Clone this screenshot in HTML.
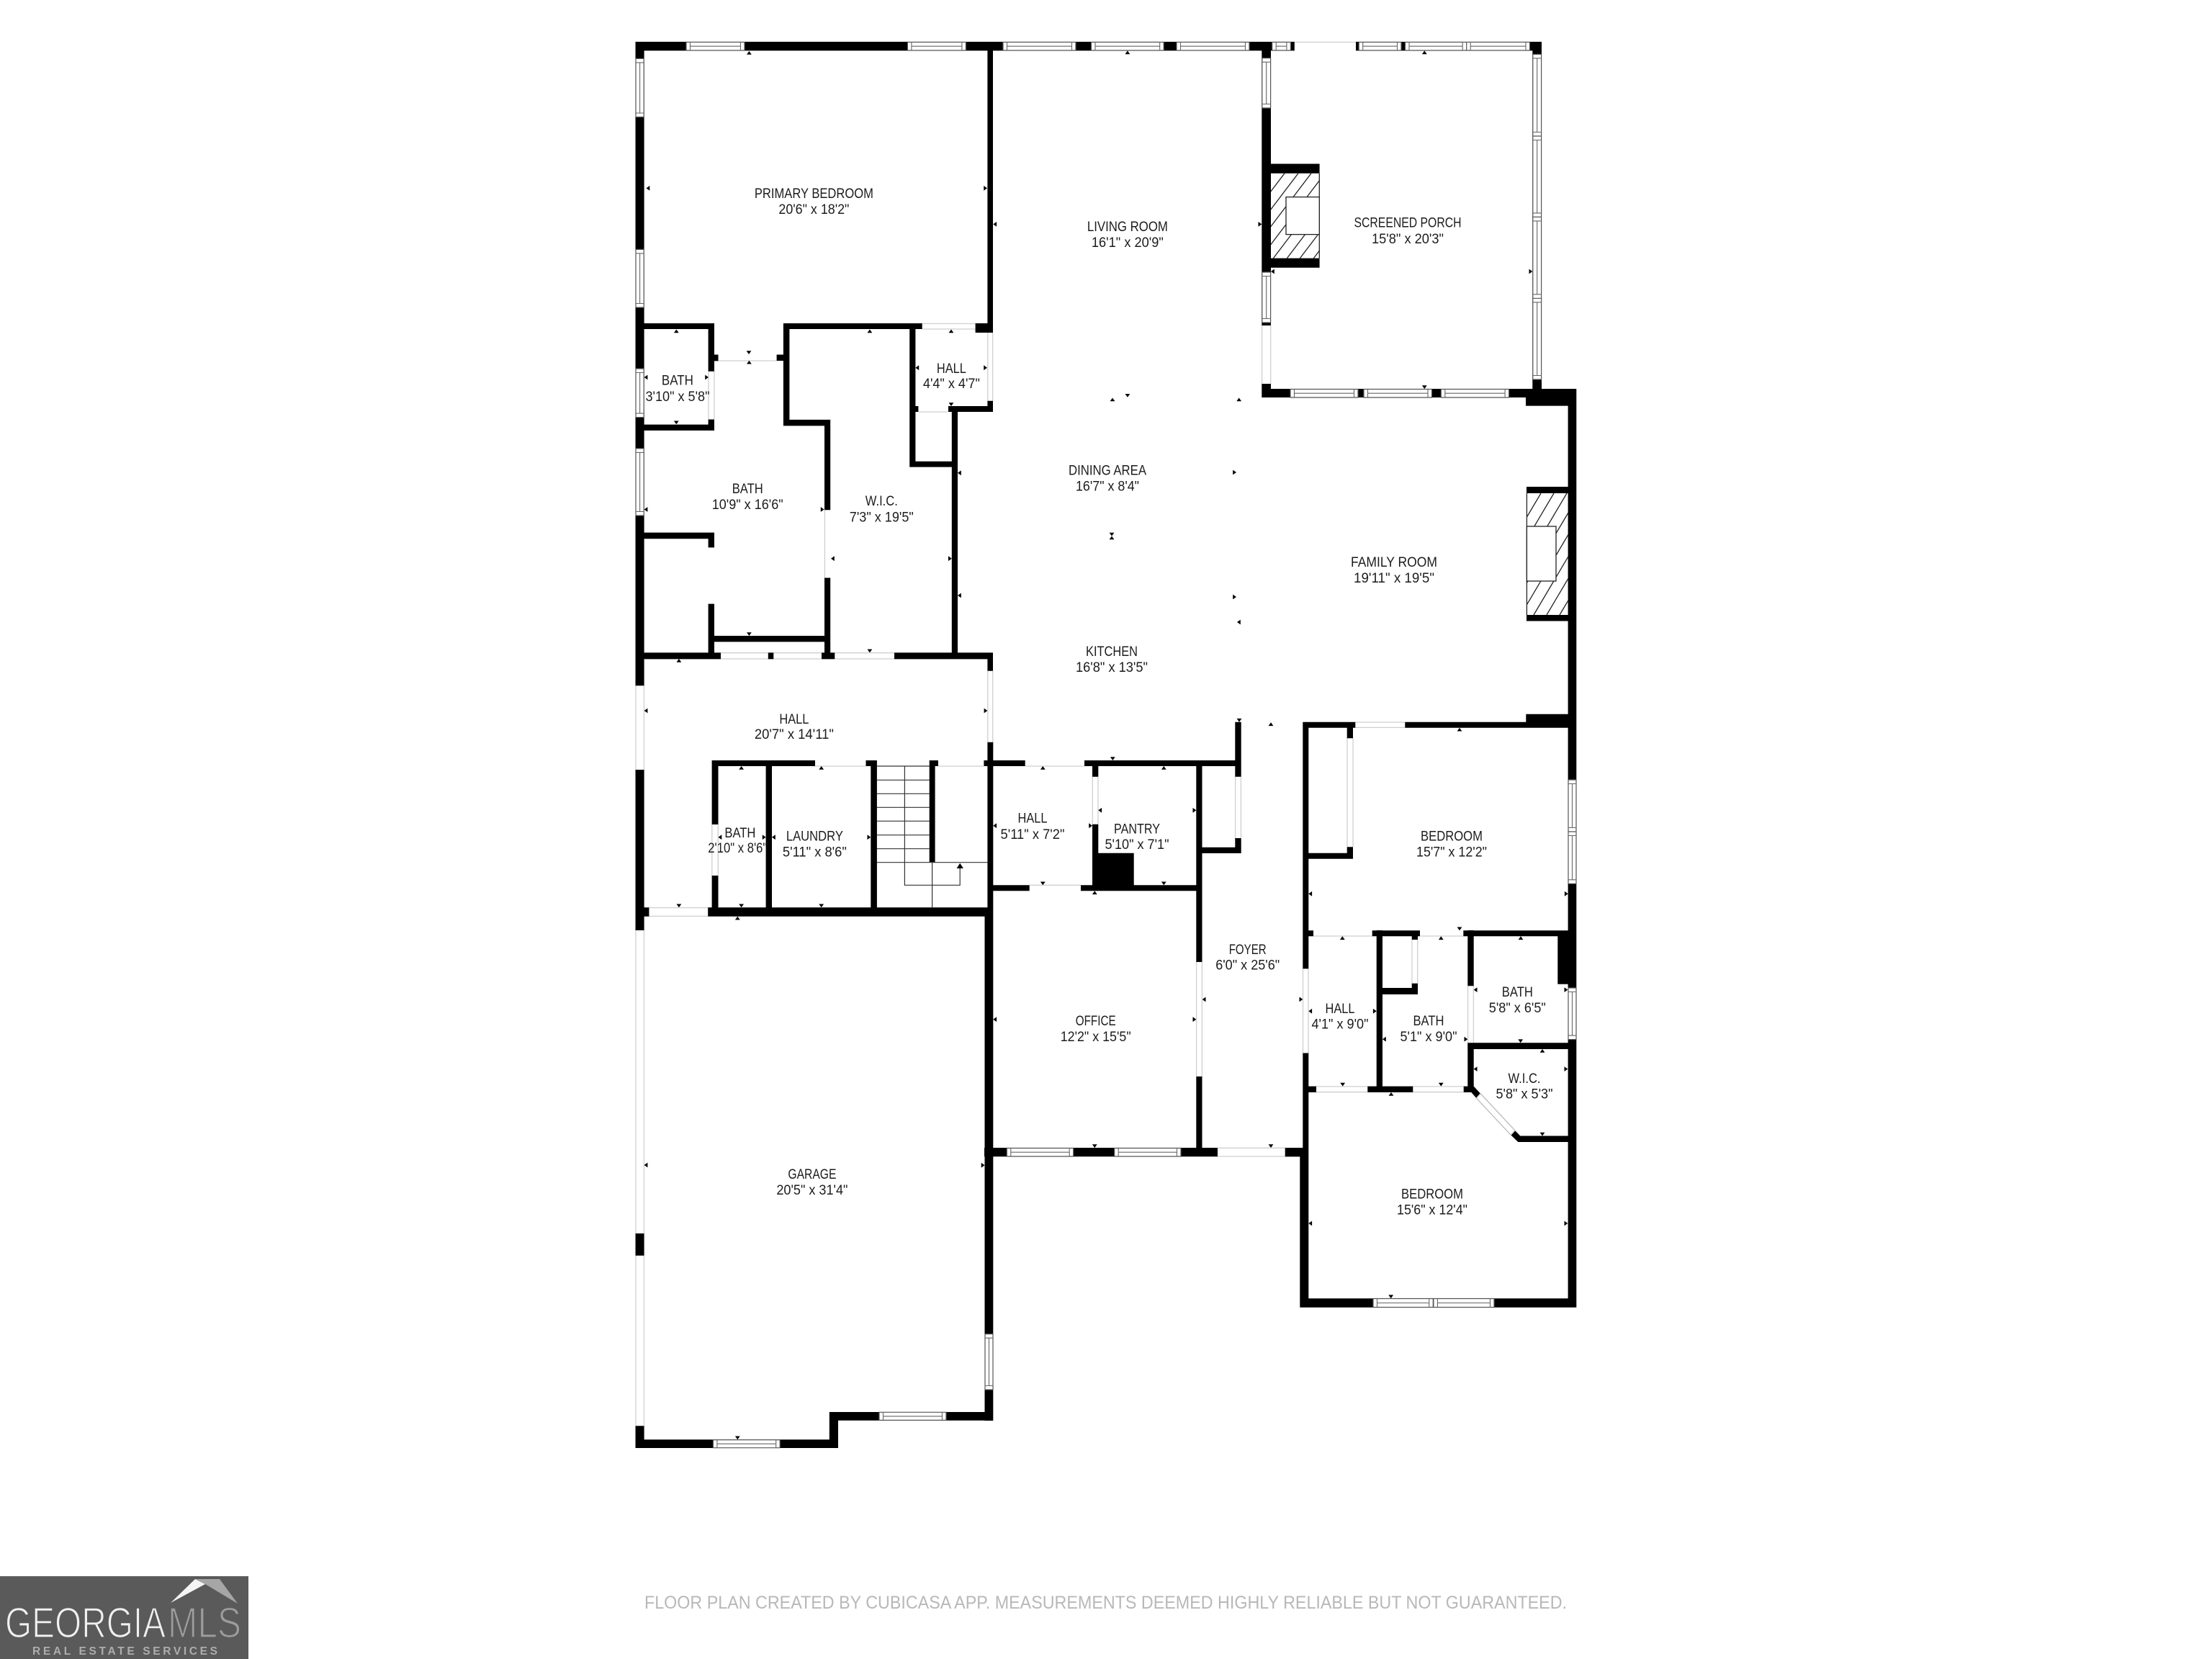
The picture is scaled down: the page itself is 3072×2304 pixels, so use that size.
<!DOCTYPE html>
<html><head><meta charset="utf-8"><title>Floor plan</title>
<style>
html,body{margin:0;padding:0;background:#fff}
svg{display:block}
text{font-family:"Liberation Sans",Arial,sans-serif}
.l text{font-size:19px;fill:#1c1c1c;text-anchor:middle}
</style></head><body>
<svg xmlns="http://www.w3.org/2000/svg" width="3072" height="2304" viewBox="0 0 3072 2304">
<defs>
<clipPath id="c1"><rect x="1765" y="240.7" width="67.6" height="118"/></clipPath>
<clipPath id="c2"><rect x="2120" y="685" width="58" height="169"/></clipPath>
</defs>
<rect width="3072" height="2304" fill="#fff"/>

<!-- door / opening lines -->
<path fill="none" stroke="#cfcfcf" stroke-width="1.3" d="
M1280.7 449.5H1354.6M1280.7 457H1354.6
M1371.8 462V557M1378.6 462V557
M997.5 501H1078.6
M984 515.7V582.5M992 515.7V582.5
M1145.4 708V802.5
M1275.4 572H1317
M1001 915H1066.8M1074.3 915H1141M1159.3 915H1242
M1001 906.7H1066.8M1074.3 906.7H1141M1159.3 906.7H1242
M883 952V1069M894.4 952V1069
M1371.8 931.8V1030.7M1378.7 931.8V1030.7
M1132 1064H1202.5M1302.9 1064H1366.4
M988.8 1145V1216M997.3 1145V1216
M901.4 1260.6H983.2M901.4 1272.4H983.2
M883 1292V1713M883 1743.7V1980
M894.4 1292V1713M894.4 1743.7V1980
M1423.7 1064H1506M1429.7 1229.3H1501
M1517.3 1078.7V1144.7M1525 1078.7V1144.7
M1715.6 1078.7V1164M1723.4 1078.7V1164
M1669.4 1336V1495M1661.6 1336V1495
M1691 1594.3H1785M1691 1606H1785
M1809.5 1345.4V1462.5M1817 1345.4V1462.5
M1824 1300H1905.7M1972 1300H2032.3
M1871 1025V1176M1879 1025V1176
M1882.3 1003H1951.3M1882.3 1010.4H1951.3
M1961 1305V1365.7M1968.7 1305V1365.7
M2038.6 1369.3V1457M2046.4 1369.3V1457
M1828 1508.9H1899.3M1828 1516.7H1899.3
M1962.3 1508.9H2032.7M1962.3 1516.7H2032.7
M1797.8 58.5H1883
M1752.6 452V533M1764.7 452V533"/>

<!-- walls -->
<path fill="#000" d="
M882.5 58H1797.8V70.4H882.5Z
M1883 58H2141V70.4H1883Z
M882.5 58H894.6V952.3H882.5Z
M882.5 1069H894.6V1292H882.5Z
M882.5 1713H894.6V1743.7H882.5Z
M882.5 1980.3H894.6V2011H882.5Z
M1371.4 58H1379V462H1371.4Z
M1354.6 449H1379V462H1354.6Z
M1371.4 556.8H1379V572H1371.4Z
M1317 564H1379V572H1317Z
M882.5 449H992V457H882.5Z
M983.6 449H992V515.7H983.6Z
M983.6 492.5H997.5V501.4H983.6Z
M983.6 582.5H992V597.9H983.6Z
M882.5 589.6H992V597.9H882.5Z
M1087.9 449H1280.7V457H1087.9Z
M1087.9 449H1096.4V591.4H1087.9Z
M1078.6 492.5H1096.4V501H1078.6Z
M1087.9 582.9H1153.2V591.4H1087.9Z
M1145 582.9H1153.2V708.2H1145Z
M1145 802.5H1153.2V915H1145Z
M1263.2 449H1271.4V648.6H1263.2Z
M1263.2 564H1275.4V572H1263.2Z
M1263.2 640.7H1330V648.6H1263.2Z
M1321.8 564H1330V915H1321.8Z
M882.5 739.6H992V748.2H882.5Z
M983.6 739.6H992V760.4H983.6Z
M983.6 838.6H992V915H983.6Z
M983.6 883H1153V891.4H983.6Z
M882.5 906.4H1001V915.4H882.5Z
M1066.8 906.4H1074.3V915.4H1066.8Z
M1141 906.4H1159.3V915.4H1141Z
M1242 906.4H1379V915.4H1242Z
M1371.4 906.4H1379V931.8H1371.4Z
M1371.4 1030.7H1379.3V1272.7H1371.4Z
M988.6 1056H1132V1064H988.6Z
M1202.5 1056H1217.9V1064H1202.5Z
M1290.7 1056H1302.9V1064H1290.7Z
M1366.4 1056H1423.7V1064H1366.4Z
M988.6 1056H997.5V1145H988.6Z
M988.6 1216H997.5V1272.7H988.6Z
M1063.6 1056H1072V1272.7H1063.6Z
M1209.3 1056H1217.9V1272.7H1209.3Z
M983.2 1260.3H1379V1272.7H983.2Z
M882.5 1260.3H901.4V1272.7H882.5Z
M1290.7 1056H1298.6V1197.7H1290.7Z
M1367.5 1260.3H1379.3V1973H1367.5Z
M1379.3 1229.3H1429.7V1237.3H1379.3Z
M1501 1229.3H1669.3V1237.3H1501Z
M1506 1056H1723.7V1064H1506Z
M1517 1056H1525.3V1078.7H1517Z
M1517 1144.7H1525.3V1237.3H1517Z
M1517 1184.7H1574.7V1237.3H1517Z
M1661.3 1056H1669.5V1336H1661.3Z
M1661.3 1495H1669.5V1606H1661.3Z
M1715.3 1002.7H1723.7V1078.7H1715.3Z
M1715.3 1164H1723.7V1185H1715.3Z
M1661.3 1176.7H1723.7V1185H1661.3Z
M1809.3 1002.7H1817.3V1345.4H1809.3Z
M1809.3 1462.5H1817.3V1606H1809.3Z
M1809.3 1002.7H1882.3V1010.7H1809.3Z
M1951.3 1002.7H2189V1010.7H1951.3Z
M2119.3 991.7H2189V1010.7H2119.3Z
M1870.7 1010.7H1879V1025.3H1870.7Z
M1870.7 1176.3H1879V1192.7H1870.7Z
M1809.3 1184.7H1879V1192.7H1809.3Z
M1809.3 1292.3H1824V1300.3H1809.3Z
M1905.7 1292.3H1972V1300.3H1905.7Z
M2032.3 1292.3H2189V1300.3H2032.3Z
M1809.3 1508.6H1828V1517H1809.3Z
M1899.3 1508.6H1962.3V1517H1899.3Z
M2032.7 1508.6H2046.7V1517H2032.7Z
M1911.7 1292H1920V1517H1911.7Z
M1920 1372H1969V1381H1920Z
M1960.7 1300H1969V1305H1960.7Z
M1960.7 1365.7H1969V1381H1960.7Z
M2038.3 1292H2046.7V1369.3H2038.3Z
M2038.3 1457H2046.7V1517H2038.3Z
M2038.3 1448.2H2189V1457H2038.3Z
M2163.3 1300H2178.5V1366.8H2163.3Z
M2046.7 1508.6L2056 1518.6L2050.3 1525L2043.3 1517Z
M2098.3 1576.4L2104 1570L2111.3 1577.5H2178V1586H2108.3Z
M1805.3 1803.2H2189.3V1815.7H1805.3Z
M1805.3 1594.3H1817.3V1815.7H1805.3Z
M1784.7 1594.3H1817.3V1606.4H1784.7Z
M1367 1594H1691V1606.3H1367Z
M1785 1594H1817V1606.3H1785Z
M1151.8 1961H1379.3V1972.7H1151.8Z
M1151.8 1961H1164V2011H1151.8Z
M882.5 1999.3H1164V2011H882.5Z
M1752.3 58H1765V452H1752.3Z
M1752.3 533H1765V552H1752.3Z
M1752.3 540H2141V552H1752.3Z
M2128.3 58H2141V552H2128.3Z
M2119 540H2189.3V563.6H2119Z
M2177.6 540H2189.3V1815.7H2177.6Z
M1765 227.5H1832.6V240.7H1765Z
M1765 358.6H1832.6V371.8H1765Z
M2120 676H2178V685H2120Z
M2120 854H2178V862.5H2120Z"/>

<!-- fireplaces -->
<g stroke="#222" stroke-width="1.3" fill="none">
<g clip-path="url(#c1)">
<path d="M1784 240.7L1694.4 358.6M1803 240.7L1713.4 358.6M1821 240.7L1731.4 358.6M1840 240.7L1750.4 358.6M1858 240.7L1768.4 358.6M1877 240.7L1787.4 358.6M1895 240.7L1805.4 358.6M1914 240.7L1824.4 358.6"/>
</g>
<path d="M1832.3 240.7V358.6"/>
<rect x="1786" y="273.6" width="46.3" height="52" fill="#fff"/>
<g clip-path="url(#c2)">
<path d="M2140 685L2040 854M2158 685L2058 854M2176 685L2076 854M2194 685L2094 854M2212 685L2112 854M2230 685L2130 854M2248 685L2148 854M2266 685L2166 854M2284 685L2184 854"/>
</g>
<path d="M2120.4 685V854"/>
<rect x="2120.4" y="731" width="40.6" height="76" fill="#fff"/>
</g>

<!-- windows -->
<path fill="#fff" stroke="#555" stroke-width="1.2" d="
M953 58.5H1034V70H953Z M1260.4 58.5H1341.4V70H1260.4Z M1393 58.5H1494V70H1393Z M1515.5 58.5H1616.2V70H1515.5Z M1634 58.5H1735V70H1634Z M1766.7 58.5H1792.4V70H1766.7Z M1887.2 58.5H1946V70H1887.2Z M1951.5 58.5H2036.7V70H1951.5Z M2036.7 58.5H2124.5V70H2036.7Z
M1792 540.5H1886V552H1792Z M1894 540.5H1988.5V552H1894Z M2001.3 540.5H2095.6V552H2001.3Z
M1398.3 1594.5H1490.7V1606H1398.3Z M1547.7 1594.5H1640V1606H1547.7Z
M1907 1803.5H1990.3V1815.5H1907Z M1990.9 1803.5H2075V1815.5H1990.9Z
M990.4 1999.6H1083.2V2010.7H990.4Z M1221 1961.3H1314V1972.4H1221Z
M883 81.4H894.2V162.5H883Z M883 346.4H894.2V427H883Z M883 512H894.2V579.6H883Z M883 622.9H894.2V716H883Z
M1752.8 80.7H1764.6V150H1752.8Z M1752.8 378H1764.6V448H1752.8Z
M2128.8 75.4H2140.6V189H2128.8Z M2128.8 189H2140.6V301.4H2128.8Z M2128.8 301.4H2140.6V414.3H2128.8Z M2128.8 414.3H2140.6V527H2128.8Z
M2178 1083H2189V1155H2178Z M2178 1155H2189V1227.3H2178Z
M2178 1372H2189V1443.6H2178Z
M1368 1852.7H1379V1930H1368Z"/>
<path fill="#fff" stroke="#b5b5b5" stroke-width="1.2" d="M2050.3 1525L2056 1518.6L2104 1570L2098.3 1576.4Z"/>
<path fill="none" stroke="#666" stroke-width="1.1" d="
M958.5 58.5V70M1028.5 58.5V70M958.5 64.2H1028.5
M1265.9 58.5V70M1335.9 58.5V70M1265.9 64.2H1335.9
M1398.5 58.5V70M1488.5 58.5V70M1398.5 64.2H1488.5
M1521 58.5V70M1610.7 58.5V70M1521 64.2H1610.7
M1639.5 58.5V70M1729.5 58.5V70M1639.5 64.2H1729.5
M1772.2 58.5V70M1786.9 58.5V70M1772.2 64.2H1786.9
M1892.7 58.5V70M1940.5 58.5V70M1892.7 64.2H1940.5
M1957 58.5V70M2031.2 58.5V70M1957 64.2H2031.2
M2042.2 58.5V70M2119 58.5V70M2042.2 64.2H2119
M1797.5 540.5V552M1880.5 540.5V552M1797.5 546.2H1880.5
M1899.5 540.5V552M1983 540.5V552M1899.5 546.2H1983
M2006.8 540.5V552M2090.1 540.5V552M2006.8 546.2H2090.1
M1403.8 1594.5V1606M1485.2 1594.5V1606M1403.8 1600.2H1485.2
M1553.2 1594.5V1606M1634.5 1594.5V1606M1553.2 1600.2H1634.5
M1912.5 1803.5V1815.5M1984.8 1803.5V1815.5M1912.5 1809.5H1984.8
M1996.4 1803.5V1815.5M2069.5 1803.5V1815.5M1996.4 1809.5H2069.5
M995.9 1999.6V2010.7M1077.7 1999.6V2010.7M995.9 2005.2H1077.7
M1226.5 1961.3V1972.4M1308.5 1961.3V1972.4M1226.5 1966.9H1308.5
M883 86.9H894.2M883 157H894.2M888.6 86.9V157
M883 351.9H894.2M883 421.5H894.2M888.6 351.9V421.5
M883 517.5H894.2M883 574.1H894.2M888.6 517.5V574.1
M883 628.4H894.2M883 710.5H894.2M888.6 628.4V710.5
M1752.8 86.2H1764.6M1752.8 144.5H1764.6M1758.7 86.2V144.5
M1752.8 383.5H1764.6M1752.8 442.5H1764.6M1758.7 383.5V442.5
M2128.8 80.9H2140.6M2128.8 183.5H2140.6M2134.7 80.9V183.5
M2128.8 194.5H2140.6M2128.8 295.9H2140.6M2134.7 194.5V295.9
M2128.8 306.9H2140.6M2128.8 408.8H2140.6M2134.7 306.9V408.8
M2128.8 419.8H2140.6M2128.8 521.5H2140.6M2134.7 419.8V521.5
M2178 1088.5H2189M2178 1149.5H2189M2183.5 1088.5V1149.5
M2178 1160.5H2189M2178 1221.8H2189M2183.5 1160.5V1221.8
M2178 1377.5H2189M2178 1438.1H2189M2183.5 1377.5V1438.1
M1368 1858.2H1379M1368 1924.5H1379M1373.5 1858.2V1924.5"/>

<!-- stairs -->
<path fill="none" stroke="#333" stroke-width="1.2" d="
M1217.9 1064H1290.7M1217.9 1083.3H1290.7M1217.9 1102.3H1290.7M1217.9 1121.3H1290.7M1217.9 1140.3H1290.7M1217.9 1159.7H1290.7M1217.9 1178.7H1290.7
M1217.9 1197.7H1371.4
M1256.4 1064V1229.3H1333.2V1204
M1294.6 1197.7V1260.3"/>
<path fill="#000" d="M1333.2 1198.7L1337.9 1206H1328.6Z"/>

<!-- dimension markers -->
<path fill="#000" d="
M1040.4 71l3.4 4.8h-6.8zM939.3 457.5l3.4 4.8h-6.8zM1040.4 500.7l3.4 4.8h-6.8zM1207.9 457.5l3.4 4.8h-6.8zM1321 457.5l3.4 4.8h-6.8z
M942.9 915l3.4 4.8h-6.8zM1029.6 1064l3.4 4.8h-6.8zM1140.7 1064l3.4 4.8h-6.8zM1024.3 1272.7l3.4 4.8h-6.8z
M1448.3 1064l3.4 4.8h-6.8zM1616.3 1064l3.4 4.8h-6.8zM1520.3 1237.3l3.4 4.8h-6.8zM1765 1003.3l3.4 4.8h-6.8z
M2027 1010.7l3.4 4.8h-6.8zM1864.3 1300.3l3.4 4.8h-6.8zM2001.3 1300.3l3.4 4.8h-6.8zM2112 1300.3l3.4 4.8h-6.8z
M2142 1457l3.4 4.8h-6.8zM1932 1517l3.4 4.8h-6.8z
M1565.9 70.4l3.4 4.8h-6.8zM1978.3 70.4l3.4 4.8h-6.8zM1545 552.5l3.4 4.8h-6.8zM1720.7 552.5l3.4 4.8h-6.8zM1544 744.5l3.4 4.8h-6.8z
M1040 492l3.4 -4.8h-6.8zM939.3 589.3l3.4 -4.8h-6.8zM1321 564l3.4 -4.8h-6.8zM1040.4 883l3.4 -4.8h-6.8zM1207.9 906.4l3.4 -4.8h-6.8z
M942.9 1260.3l3.4 -4.8h-6.8zM1029.6 1260.3l3.4 -4.8h-6.8zM1140.7 1260.3l3.4 -4.8h-6.8z
M1545.3 1056l3.4 -4.8h-6.8zM1448.3 1229.3l3.4 -4.8h-6.8zM1616.3 1229.3l3.4 -4.8h-6.8zM1721 1002.7l3.4 -4.8h-6.8z
M2027 1292.3l3.4 -4.8h-6.8zM2111.7 1448.2l3.4 -4.8h-6.8zM1864.7 1508.6l3.4 -4.8h-6.8zM2001.3 1508.6l3.4 -4.8h-6.8zM2142 1577.5l3.4 -4.8h-6.8z
M1931.7 1803.2l3.4 -4.8h-6.8zM1520.3 1594l3.4 -4.8h-6.8zM1765 1594l3.4 -4.8h-6.8zM1024.3 1999.3l3.4 -4.8h-6.8z
M1978.3 540l3.4 -4.8h-6.8zM1565.9 551.8l3.4 -4.8h-6.8zM1544 744.5l3.4 -4.8h-6.8z
M897.5 261.4l4.8 -3.4v6.8zM1379.3 311.4l4.8 -3.4v6.8zM1271.4 510.7l4.8 -3.4v6.8zM894.6 524l4.8 -3.4v6.8z
M1330 656.8l4.8 -3.4v6.8zM1330 827l4.8 -3.4v6.8zM894.6 707.5l4.8 -3.4v6.8zM1154 775.7l4.8 -3.4v6.8z
M894.6 987l4.8 -3.4v6.8zM997.5 1162.7l4.8 -3.4v6.8zM1072 1162.7l4.8 -3.4v6.8zM1379.3 1146.7l4.8 -3.4v6.8z
M1525.3 1125.3l4.8 -3.4v6.8zM1817.3 1241.3l4.8 -3.4v6.8zM1817.3 1404.3l4.8 -3.4v6.8zM1920 1443.2l4.8 -3.4v6.8z
M2046.7 1374.6l4.8 -3.4v6.8zM2046.7 1484.6l4.8 -3.4v6.8zM1817.3 1699l4.8 -3.4v6.8zM1379.3 1415.7l4.8 -3.4v6.8z
M1669.7 1388l4.8 -3.4v6.8zM894.6 1618l4.8 -3.4v6.8zM1765 377l4.8 -3.4v6.8zM1718 864l4.8 -3.4v6.8z
M1371 261.4l-4.8 -3.4v6.8zM1371 510.7l-4.8 -3.4v6.8zM984 524l-4.8 -3.4v6.8zM1144.6 707.5l-4.8 -3.4v6.8z
M1321.8 775.7l-4.8 -3.4v6.8zM1371.4 987l-4.8 -3.4v6.8zM1063.6 1162.7l-4.8 -3.4v6.8zM1209.3 1162.7l-4.8 -3.4v6.8z
M1661.3 1125.3l-4.8 -3.4v6.8zM1517 1146.7l-4.8 -3.4v6.8zM2177.7 1241.3l-4.8 -3.4v6.8zM1911.7 1404.3l-4.8 -3.4v6.8z
M2038.3 1443.2l-4.8 -3.4v6.8zM2177.3 1374.6l-4.8 -3.4v6.8zM1809.3 1387.9l-4.8 -3.4v6.8zM2177.3 1484.6l-4.8 -3.4v6.8z
M2177.3 1699l-4.8 -3.4v6.8zM1661.3 1415.7l-4.8 -3.4v6.8zM1367.5 1618.3l-4.8 -3.4v6.8zM1752.3 311.4l-4.8 -3.4v6.8z
M2128.3 377l-4.8 -3.4v6.8zM1717 656l-4.8 -3.4v6.8zM1717 829l-4.8 -3.4v6.8z"/>

<!-- room labels -->
<g class="l">
<text x="1130.4" y="275" textLength="165" lengthAdjust="spacingAndGlyphs">PRIMARY BEDROOM</text>
<text x="1130.4" y="297" textLength="98" lengthAdjust="spacingAndGlyphs">20'6" x 18'2"</text>
<text x="940.9" y="534.6" textLength="44" lengthAdjust="spacingAndGlyphs">BATH</text>
<text x="941" y="557" textLength="89" lengthAdjust="spacingAndGlyphs">3'10" x 5'8"</text>
<text x="1321.4" y="517.9" textLength="41" lengthAdjust="spacingAndGlyphs">HALL</text>
<text x="1321.4" y="539" textLength="79" lengthAdjust="spacingAndGlyphs">4'4" x 4'7"</text>
<text x="1038.2" y="685" textLength="43" lengthAdjust="spacingAndGlyphs">BATH</text>
<text x="1038.2" y="707" textLength="99" lengthAdjust="spacingAndGlyphs">10'9" x 16'6"</text>
<text x="1224.3" y="702" textLength="45" lengthAdjust="spacingAndGlyphs">W.I.C.</text>
<text x="1224.3" y="724.3" textLength="89" lengthAdjust="spacingAndGlyphs">7'3" x 19'5"</text>
<text x="1565.9" y="321" textLength="112" lengthAdjust="spacingAndGlyphs">LIVING ROOM</text>
<text x="1565.9" y="343" textLength="100" lengthAdjust="spacingAndGlyphs">16'1" x 20'9"</text>
<text x="1955" y="315.7" textLength="149" lengthAdjust="spacingAndGlyphs">SCREENED PORCH</text>
<text x="1955" y="338" textLength="100" lengthAdjust="spacingAndGlyphs">15'8" x 20'3"</text>
<text x="1538" y="659.5" textLength="108" lengthAdjust="spacingAndGlyphs">DINING AREA</text>
<text x="1538" y="681.5" textLength="88" lengthAdjust="spacingAndGlyphs">16'7" x 8'4"</text>
<text x="1936" y="787" textLength="120" lengthAdjust="spacingAndGlyphs">FAMILY ROOM</text>
<text x="1936" y="809" textLength="112" lengthAdjust="spacingAndGlyphs">19'11" x 19'5"</text>
<text x="1544" y="911" textLength="72" lengthAdjust="spacingAndGlyphs">KITCHEN</text>
<text x="1544" y="933" textLength="100" lengthAdjust="spacingAndGlyphs">16'8" x 13'5"</text>
<text x="1102.9" y="1005" textLength="41" lengthAdjust="spacingAndGlyphs">HALL</text>
<text x="1102.9" y="1026" textLength="110" lengthAdjust="spacingAndGlyphs">20'7" x 14'11"</text>
<text x="1027.9" y="1163" textLength="43" lengthAdjust="spacingAndGlyphs">BATH</text>
<text x="1024.3" y="1184" textLength="82" lengthAdjust="spacingAndGlyphs">2'10" x 8'6"</text>
<text x="1131.4" y="1167.7" textLength="79" lengthAdjust="spacingAndGlyphs">LAUNDRY</text>
<text x="1131.4" y="1189.3" textLength="89" lengthAdjust="spacingAndGlyphs">5'11" x 8'6"</text>
<text x="1434" y="1142.7" textLength="41" lengthAdjust="spacingAndGlyphs">HALL</text>
<text x="1434" y="1165" textLength="89" lengthAdjust="spacingAndGlyphs">5'11" x 7'2"</text>
<text x="1579" y="1157.7" textLength="64" lengthAdjust="spacingAndGlyphs">PANTRY</text>
<text x="1579" y="1179" textLength="89" lengthAdjust="spacingAndGlyphs">5'10" x 7'1"</text>
<text x="1732.7" y="1325" textLength="52" lengthAdjust="spacingAndGlyphs">FOYER</text>
<text x="1732.7" y="1346.7" textLength="89" lengthAdjust="spacingAndGlyphs">6'0" x 25'6"</text>
<text x="1521.7" y="1424" textLength="56" lengthAdjust="spacingAndGlyphs">OFFICE</text>
<text x="1521.7" y="1446" textLength="98" lengthAdjust="spacingAndGlyphs">12'2" x 15'5"</text>
<text x="2016" y="1167.3" textLength="86" lengthAdjust="spacingAndGlyphs">BEDROOM</text>
<text x="2016" y="1189.3" textLength="98" lengthAdjust="spacingAndGlyphs">15'7" x 12'2"</text>
<text x="1861" y="1407" textLength="41" lengthAdjust="spacingAndGlyphs">HALL</text>
<text x="1861" y="1428.6" textLength="79" lengthAdjust="spacingAndGlyphs">4'1" x 9'0"</text>
<text x="1984" y="1424" textLength="43" lengthAdjust="spacingAndGlyphs">BATH</text>
<text x="1984" y="1446" textLength="79" lengthAdjust="spacingAndGlyphs">5'1" x 9'0"</text>
<text x="2107.3" y="1384" textLength="43" lengthAdjust="spacingAndGlyphs">BATH</text>
<text x="2107.3" y="1406" textLength="79" lengthAdjust="spacingAndGlyphs">5'8" x 6'5"</text>
<text x="2117" y="1504" textLength="45" lengthAdjust="spacingAndGlyphs">W.I.C.</text>
<text x="2117" y="1525.7" textLength="79" lengthAdjust="spacingAndGlyphs">5'8" x 5'3"</text>
<text x="1989" y="1664.3" textLength="86" lengthAdjust="spacingAndGlyphs">BEDROOM</text>
<text x="1989" y="1686.4" textLength="98" lengthAdjust="spacingAndGlyphs">15'6" x 12'4"</text>
<text x="1127.9" y="1637" textLength="67" lengthAdjust="spacingAndGlyphs">GARAGE</text>
<text x="1127.9" y="1659" textLength="99" lengthAdjust="spacingAndGlyphs">20'5" x 31'4"</text>
</g>

<!-- footer -->
<text x="895" y="2234" font-size="25" fill="#b8b8b8" textLength="1281" lengthAdjust="spacingAndGlyphs">FLOOR PLAN CREATED BY CUBICASA APP. MEASUREMENTS DEEMED HIGHLY RELIABLE BUT NOT GUARANTEED.</text>

<!-- logo -->
<rect x="0" y="2189" width="345" height="115" fill="#5a5a5a"/>
<path fill="#f4f4f4" d="M237 2226L271 2193L285 2200Z"/>
<path fill="#a6a6a6" d="M271 2193H305L330 2227L285 2200Z"/>
<text x="7" y="2274" font-size="59" fill="#f0f0f0" stroke="#5a5a5a" stroke-width="1.6" textLength="223" lengthAdjust="spacingAndGlyphs">GEORGIA</text>
<text x="233" y="2274" font-size="59" fill="#9c9c9c" stroke="#5a5a5a" stroke-width="1.6" textLength="102" lengthAdjust="spacingAndGlyphs">MLS</text>
<text x="45" y="2298" font-size="15.5" font-weight="bold" fill="#adadad" textLength="257">REAL ESTATE SERVICES</text>
</svg>
</body></html>
